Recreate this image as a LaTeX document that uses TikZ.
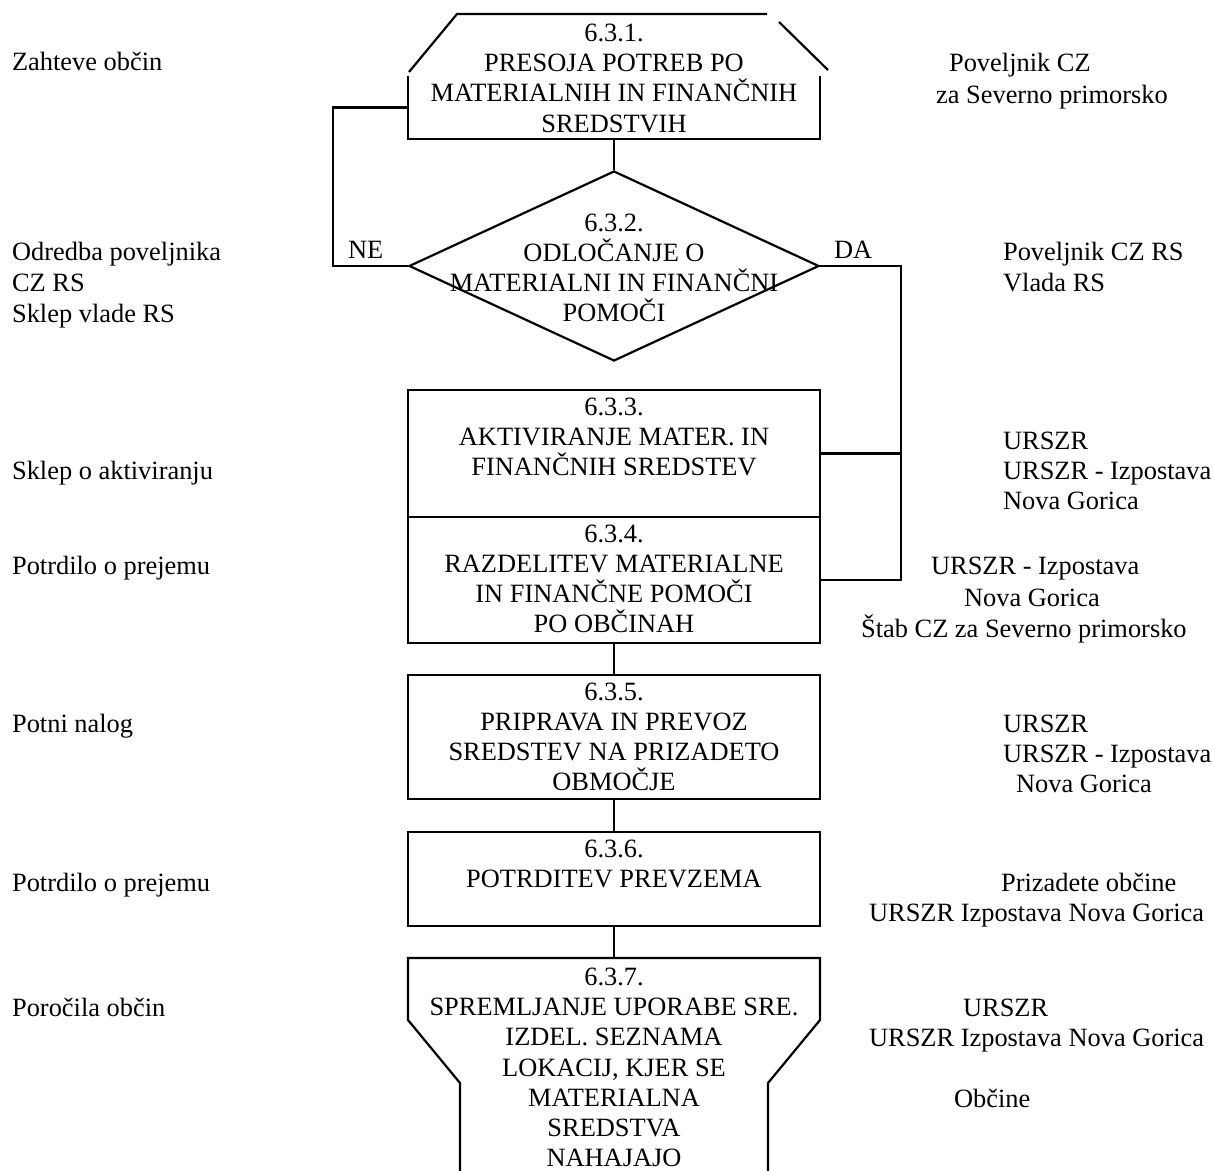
\documentclass[tikz,border=0pt]{standalone}
\usepackage{fontspec}
\setmainfont{Liberation Serif}
\usetikzlibrary{positioning,shapes.geometric}

\begin{document}
\fontsize{13.2}{15.1}\selectfont
\begin{tikzpicture}[x=0.5pt,y=-0.5pt,line width=1.1pt,
  box/.style={draw,minimum width=206pt,inner sep=0pt},
  open/.style={minimum width=206pt,inner sep=0pt,outer sep=0pt},
  txt/.style={align=center,inner sep=0pt,outer sep=0pt},
  lbl/.style={anchor=base west,inner sep=0pt}]
\useasboundingbox (0,0) rectangle (1214,1171);
\node[open,minimum height=31.5pt] (b631) at (614,107.5) {};
\draw (b631.north west) -- (b631.south west) -- (b631.south east) -- (b631.north east);
\draw (409,72) -- (457,14) -- (767,14);
\draw (779,22) -- (828,70);
\node[txt,anchor=north] (t631) at (614,24) {6.3.1.\\PRESOJA POTREB PO\\MATERIALNIH IN FINANČNIH\\SREDSTVIH};
\node[draw,diamond,minimum width=205pt,minimum height=95pt,inner sep=0pt] (d632) at (614,266) {};
\node[txt,below=22pt of d632.north] (t632) {6.3.2.\\ODLOČANJE O\\MATERIALNI IN FINANČNI\\POMOČI};
\node[box,minimum height=63.5pt] (b633) at (614,453.5) {};
\node[box,minimum height=63pt] (b634) at (614,580) {};
\node[box,minimum height=62pt] (b635) at (614,737) {};
\node[box,minimum height=47pt] (b636) at (614,879) {};
\node[open,minimum height=31pt] (b637) at (614,989) {};
\node[txt,below=4.5pt of b633.north] (t633) {6.3.3.\\AKTIVIRANJE MATER. IN\\FINANČNIH SREDSTEV};
\node[txt,below=4.5pt of b634.north] (t634) {6.3.4.\\RAZDELITEV MATERIALNE\\IN FINANČNE POMOČI\\PO OBČINAH};
\node[txt,below=4.5pt of b635.north] (t635) {6.3.5.\\PRIPRAVA IN PREVOZ\\SREDSTEV NA PRIZADETO\\OBMOČJE};
\node[txt,below=4.5pt of b636.north] (t636) {6.3.6.\\POTRDITEV PREVZEMA};
\node[txt,below=5pt of b637.north] (t637) {6.3.7.\\SPREMLJANJE UPORABE SRE.\\IZDEL. SEZNAMA\\LOKACIJ, KJER SE\\MATERIALNA\\SREDSTVA\\NAHAJAJO};
\draw (460,1171) -- (460,1083) -- (b637.south west) -- (b637.north west) -- (b637.north east) -- (b637.south east) -- (768,1083) -- (768,1171);
\draw (b631.south) -- (d632.north);
\draw (b634.south) -- (b635.north);
\draw (b635.south) -- (b636.north);
\draw (b636.south) -- (b637.north);
\coordinate (ne) at (333,266);
\coordinate (da) at (901,266);
\draw (d632.west) -- (ne) |- (b631.west);
\draw (d632.east) -- (da) |- (b634.east);
\draw (b633.east) -- (b633.east -| da);
\node[lbl] (lne) at (347,259) {NE};
\node[lbl] (lda) at (833,259) {DA};
\node[lbl] (zahteve) at (11,71) {Zahteve občin};
\node[lbl] (odredba) at (11,261) {Odredba poveljnika};
\node[lbl] (czrs) at (11,292) {CZ RS};
\node[lbl] (sklepvlade) at (11,322) {Sklep vlade RS};
\node[lbl] (sklepakt) at (11,479) {Sklep o aktiviranju};
\node[lbl] (potrdilo1) at (11,574) {Potrdilo o prejemu};
\node[lbl] (potni) at (11,732) {Potni nalog};
\node[lbl] (potrdilo2) at (11,891) {Potrdilo o prejemu};
\node[lbl] (porocila) at (11,1016) {Poročila občin};
\node[lbl] (povcz) at (948,72) {Poveljnik CZ};
\node[lbl] (zasev) at (935,104) {za Severno primorsko};
\node[lbl] (povczrs) at (1002,261) {Poveljnik CZ RS};
\node[lbl] (vlada) at (1002,292) {Vlada RS};
\node[lbl] (urszra) at (1002,449) {URSZR};
\node[lbl] (izpa) at (1002,479) {URSZR - Izpostava};
\node[lbl] (nga) at (1002,509) {Nova Gorica};
\node[lbl] (izpb) at (930,574) {URSZR - Izpostava};
\node[lbl] (ngb) at (963,606) {Nova Gorica};
\node[lbl] (stab) at (860,637) {Štab CZ za Severno primorsko};
\node[lbl] (urszrc) at (1002,732) {URSZR};
\node[lbl] (izpc) at (1002,762) {URSZR - Izpostava};
\node[lbl] (ngc) at (1015,792) {Nova Gorica};
\node[lbl] (prizadete) at (1000,891) {Prizadete občine};
\node[lbl] (izpd) at (868,921) {URSZR Izpostava Nova Gorica};
\node[lbl] (urszre) at (962,1016) {URSZR};
\node[lbl] (izpe) at (868,1046) {URSZR Izpostava Nova Gorica};
\node[lbl] (obcine) at (953,1107) {Občine};
\end{tikzpicture}
\end{document}
